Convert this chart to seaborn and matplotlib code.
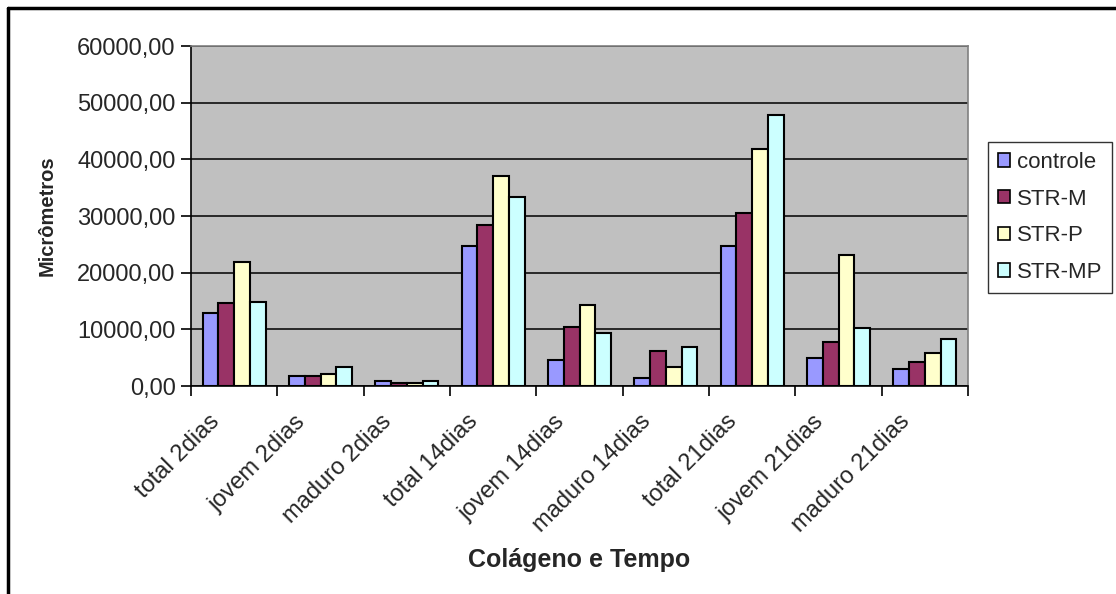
import matplotlib
matplotlib.use("Agg")
import matplotlib.pyplot as plt
from matplotlib.lines import Line2D
from matplotlib.ticker import FuncFormatter, MultipleLocator
from matplotlib.transforms import ScaledTranslation
import seaborn as sns
import pandas as pd

categories = ["total 2dias", "jovem 2dias", "maduro 2dias",
              "total 14dias", "jovem 14dias", "maduro 14dias",
              "total 21dias", "jovem 21dias", "maduro 21dias"]
groups = ["controle", "STR-M", "STR-P", "STR-MP"]

controle = [12800, 1800, 900, 24700, 4600, 1500, 24700, 4900, 3050]
str_m = [14700, 1800, 500, 28400, 10500, 6200, 30600, 7700, 4300]
str_p = [21800, 2100, 480, 37100, 14300, 3350, 41800, 23100, 5900]
str_mp = [14900, 3400, 900, 33400, 9300, 6800, 47800, 10200, 8350]

colors = ["#9999FF", "#993366", "#FFFFCC", "#CCFFFF"]

df = pd.DataFrame({
    "categoria": categories * 4,
    "grupo": sum([[g] * len(categories) for g in groups], []),
    "valor": controle + str_m + str_p + str_mp,
})

sns.set_theme(style="white")
plt.rcParams["font.family"] = ["Liberation Sans", "DejaVu Sans"]

fig = plt.figure(figsize=(11.16, 5.94), dpi=100)
ax = fig.add_axes([191 / 1116, 1 - 386 / 594, 777 / 1116, 340 / 594])
ax.set_facecolor("#C0C0C0")

sns.barplot(data=df, x="categoria", y="valor", hue="grupo",
            order=categories, hue_order=groups, palette=colors,
            width=4 / 5.5, edgecolor="black", linewidth=1.5,
            saturation=1, errorbar=None, ax=ax, zorder=3)

ax.set_xlim(-0.5, len(categories) - 0.5)
ax.set_ylim(0, 60000)
ax.yaxis.set_major_locator(MultipleLocator(10000))
ax.yaxis.set_major_formatter(FuncFormatter(lambda v, p: f"{v:.2f}".replace(".", ",")))
ax.grid(axis="y", color="black", linewidth=1.1, zorder=1)
ax.set_axisbelow(True)

# tick marks on category boundaries, labels centred under groups
ax.set_xticks(range(len(categories)))
ax.set_xticklabels(categories, rotation=45, ha="right", rotation_mode="anchor", fontsize=17)
ax.set_xticks([i - 0.5 for i in range(len(categories) + 1)], minor=True)
ax.tick_params(axis="x", which="major", length=0, pad=7)
ax.tick_params(axis="x", which="minor", length=7, width=1.2, color="black", direction="out", bottom=True)
ax.tick_params(axis="y", length=7, width=1.2, color="black", direction="out", left=True, labelsize=17, pad=4)

# nudge the slanted category labels so their ends sit just left of each group centre
shift = ScaledTranslation(-26 / 100, -15 / 100, fig.dpi_scale_trans)
for lbl in ax.get_xticklabels():
    lbl.set_transform(lbl.get_transform() + shift)

for side in ["top", "right"]:
    ax.spines[side].set_color("#808080")
    ax.spines[side].set_linewidth(1.2)
for side in ["left", "bottom"]:
    ax.spines[side].set_color("black")
    ax.spines[side].set_linewidth(1.2)

ax.set_xlabel("Colágeno e Tempo", fontsize=18, fontweight="bold")
ax.set_ylabel("Micrômetros", fontsize=14.5, fontweight="bold")
ax.xaxis.set_label_coords(0.5, -(548 - 386) / 340)
ax.yaxis.set_label_coords(-(191 - 57) / 777, 0.5)

ax.legend_.remove()
handles = [plt.Rectangle((0, 0), 1, 1, facecolor=c, edgecolor="black", linewidth=1.2) for c in colors]
leg = fig.legend(handles, groups, loc="upper left",
                 bbox_to_anchor=(988 / 1116, 1 - 142 / 594),
                 fontsize=16, frameon=True, fancybox=False, edgecolor="black",
                 handlelength=0.55, handleheight=0.55, handletextpad=0.3,
                 labelspacing=0.7, borderpad=0.45, borderaxespad=0)
leg.get_frame().set_linewidth(1.0)

# outer chart frame (top and left edges)
fig.add_artist(Line2D([8 / 1116, 1.0], [1 - 8 / 594, 1 - 8 / 594], color="black", linewidth=2.5,
                      transform=fig.transFigure))
fig.add_artist(Line2D([8 / 1116, 8 / 1116], [0.0, 1 - 8 / 594], color="black", linewidth=2.5,
                      transform=fig.transFigure))

fig.savefig("out.png", dpi=100, facecolor="white")
